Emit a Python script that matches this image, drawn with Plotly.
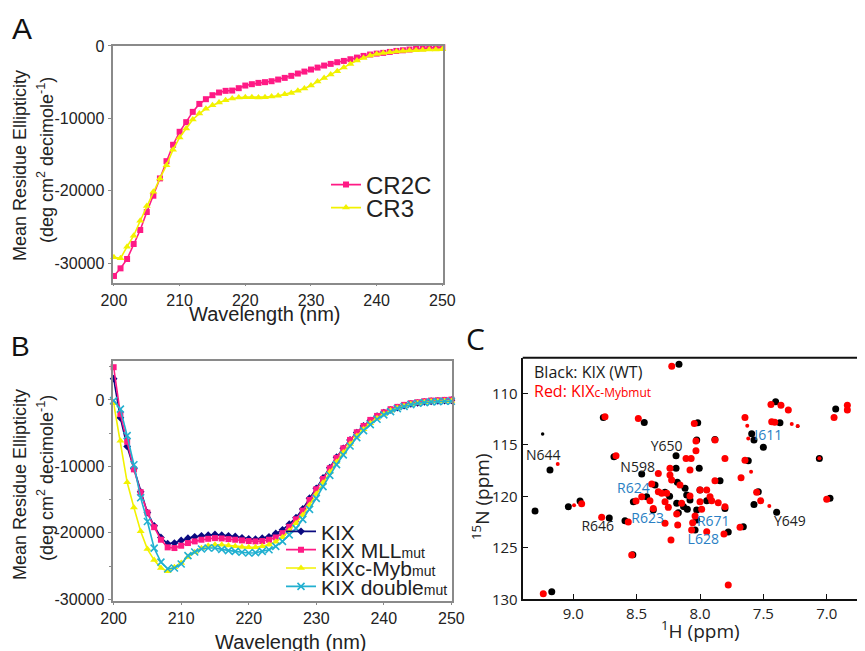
import plotly.graph_objects as go

# ---------------- data ----------------
wavelength = list(range(200, 251))

cr2c = [-31740, -30690, -29400, -27330, -25400, -22920, -20670, -18280, -15900, -13640,
        -11850, -10520, -9100, -8000, -7350, -6800, -6430, -6200, -6160, -5830,
        -5470, -5280, -5100, -5000, -4870, -4640, -4410, -4130, -3810, -3540,
        -3260, -2990, -2710, -2480, -2250, -2070, -1840, -1610, -1380, -1190,
        -1060, -960, -830, -690, -600, -500, -410, -320, -280, -230, -180]

cr3 = [-29170, -29300, -27700, -26190, -24120, -22100, -20120, -18280, -16450, -14330,
       -12630, -11390, -10150, -9330, -8680, -8180, -7810, -7490, -7260, -7120,
       -7070, -7070, -7120, -7070, -6980, -6890, -6660, -6480, -6200, -5880,
       -5470, -4920, -4410, -3950, -3490, -2990, -2480, -2020, -1650, -1330,
       -1100, -960, -870, -780, -690, -640, -600, -550, -500, -500, -460]

kix = [3200, -2700, -7000, -10350, -13830, -16960, -18950, -20700, -21640, -21540,
       -21140, -20800, -20600, -20450, -20350, -20250, -20350, -20450, -20550, -20750,
       -20900, -20950, -20800, -20600, -20100, -19550, -18700, -17720, -16400, -14800,
       -13300, -11750, -10200, -8630, -7280, -6020, -4920, -3920, -3110, -2460,
       -1910, -1510, -1150, -850, -600, -450, -300, -200, -150, -100, -50]

kix_mll = [4920, -2140, -6300, -10450, -13880, -16960, -19150, -21040, -22190, -22290,
           -21940, -21540, -21290, -21040, -20900, -20800, -20850, -20950, -21040, -21140,
           -21240, -21290, -21240, -21040, -20700, -20050, -19100, -17970, -16670, -15060,
           -13450, -11900, -10290, -8730, -7280, -6020, -4870, -3920, -3010, -2410,
           -1860, -1400, -1050, -750, -500, -350, -200, -100, -50, 0, 50]

kix_myb = [-500, -6150, -12400, -16200, -19750, -22450, -24100, -25300, -25800, -25170,
           -24530, -23630, -22930, -22340, -21940, -21790, -21790, -21890, -22040, -22140,
           -22190, -22190, -22040, -21790, -21340, -20650, -19700, -18570, -17320, -15810,
           -14160, -12450, -10840, -9340, -7930, -6630, -5420, -4420, -3510, -2760,
           -2110, -1610, -1200, -900, -650, -450, -350, -250, -200, -150, -150]

kix_double = [-100, -1390, -5370, -9750, -14730, -18300, -22300, -24400, -25400, -25300,
              -24700, -23430, -22880, -22440, -22290, -22290, -22490, -22690, -22790, -22930,
              -23030, -22990, -22790, -22540, -22040, -21290, -20300, -19330, -17970, -16470,
              -14810, -13050, -11350, -9740, -8280, -6930, -5670, -4620, -3710, -2910,
              -2260, -1760, -1310, -1000, -700, -500, -400, -300, -250, -200, -200]

# NMR peaks: (1H ppm, 15N ppm)
black_h = [8.166, 9.184, 9.302, 9.039, 8.947, 8.716, 8.763, 8.679, 8.44, 8.018,
           9.17, 8.189, 8.46, 8.189, 8.006, 7.842, 8.179, 8.355, 8.118, 8.276,
           8.0, 8.105, 8.421, 8.184, 8.079, 8.026, 7.947, 7.803, 8.526, 8.369,
           8.171, 8.10, 8.592, 8.026, 7.882, 8.026, 8.039, 7.777, 7.658, 8.53,
           7.592, 7.574, 7.50, 7.403, 7.369, 7.619, 7.54, 7.574, 7.395, 7.058,
           6.974, 6.929, 6.716, 6.72, 8.24, 8.13]
black_n = [107.16, 117.45, 121.43, 121.01, 120.46, 122.11, 112.33, 116.15, 112.82, 112.85,
           129.26, 116.06, 117.83, 117.28, 117.28, 118.49, 118.64, 118.90, 119.22, 119.61,
           119.39, 119.87, 120.04, 120.68, 120.36, 121.33, 120.43, 121.17, 120.52, 121.33,
           121.59, 121.26, 122.37, 122.30, 114.47, 114.53, 123.27, 123.47, 122.95, 125.68,
           113.92, 114.53, 115.24, 110.82, 112.85, 116.54, 119.55, 120.78, 121.55, 116.31,
           120.19, 111.52, 110.65, 112.60, 120.0, 121.0]
black_weak_h = [9.242, 7.229]
black_weak_n = [113.93, 113.2]

red_h = [8.223, 8.934, 8.776, 8.75, 8.663, 8.487, 8.045, 9.237, 7.882, 8.032,
         8.032, 8.11, 8.07, 7.803, 8.237, 8.079, 8.329, 8.237, 8.381, 8.224,
         7.882, 8.329, 8.302, 8.263, 8.158, 8.0, 7.947, 7.921, 8.46, 8.395,
         8.505, 8.276, 8.25, 8.145, 8.079, 8.0, 7.908, 7.856, 7.803, 8.369,
         8.184, 7.987, 8.039, 8.276, 8.176, 8.566, 8.058, 8.066, 7.947, 7.811,
         7.684, 8.229, 8.539, 7.777, 7.645, 7.44, 7.361, 7.303, 7.434, 7.41,
         7.645, 7.676, 7.553, 7.521, 7.0, 6.942, 6.837, 6.837, 6.716, 6.724]
red_n = [107.35, 120.72, 122.04, 112.27, 116.06, 112.43, 112.91, 129.46, 114.53, 114.63,
         115.57, 116.31, 116.31, 116.31, 117.28, 117.45, 117.77, 117.93, 118.80, 118.42,
         118.49, 119.55, 119.71, 119.71, 118.90, 119.39, 119.39, 120.04, 120.04, 120.43,
         120.46, 120.52, 121.07, 120.68, 119.97, 120.52, 120.43, 120.62, 121.01, 121.17,
         121.72, 121.26, 121.91, 122.62, 122.79, 122.50, 122.56, 123.27, 123.44, 123.66,
         123.0, 124.24, 125.70, 128.61, 112.33, 111.07, 111.14, 111.62, 112.75, 112.8,
         116.48, 118.19, 119.61, 120.43, 120.29, 112.33, 111.14, 111.62, 111.07, 112.66]
red_weak_h = [9.123, 8.994, 7.627, 7.619, 7.276, 7.229, 7.597, 7.453, 7.058]
red_weak_n = [116.86, 120.87, 113.15, 114.37, 112.98, 113.17, 117.61, 120.94, 116.3]

peak_labels = ["N644", "Y650", "N598", "R646", "Y649"]
peak_label_h = [9.237, 8.263, 8.492, 8.807, 7.29]
peak_label_n = [116.1, 115.24, 117.28, 123.0, 122.56]
blue_labels = ["I611", "R624", "R623", "R671", "L628"]
blue_label_h = [7.461, 8.526, 8.413, 7.895, 7.974]
blue_label_n = [114.2, 119.32, 122.23, 122.56, 124.31]

# ---------------- styling ----------------
W, H = 865, 651
OFF = 8  # page body margin of the browser
def px(x): return (x - OFF) / W
def py(y): return 1 - (y - OFF) / H

ARIAL = "Liberation Sans, Arial, sans-serif"
MYRIAD = "Open Sans, Noto Sans, sans-serif"
PINK = "#ff1a85"
YELLOW = "#f2f200"
NAVY = "#0a0a80"
CYAN = "#22b0d0"
GRAY = "#8a8a8a"
BLUE = "#2a7fc4"

fig = go.Figure()

def line_trace(y, name, color, symbol, size, xa, ya, legend, open_sym=False):
    marker = dict(symbol=symbol, size=size, color=color)
    if open_sym:
        marker["line"] = dict(color=color, width=1.6)
    return go.Scatter(x=wavelength, y=y, name=name, mode="lines+markers",
                      line=dict(color=color, width=1.6), marker=marker,
                      xaxis=xa, yaxis=ya, legend=legend, cliponaxis=False)

SUB = "<span style='font-size:14px'>mut</span>"
fig.add_trace(line_trace(cr2c, "CR2C", PINK, "square", 6, "x", "y", "legend"))
fig.add_trace(line_trace(cr3, "CR3", YELLOW, "triangle-up", 7, "x", "y", "legend2"))

fig.add_trace(line_trace(kix, "KIX", NAVY, "diamond", 6, "x2", "y2", "legend3"))
fig.add_trace(line_trace(kix_mll, "KIX MLL" + SUB, PINK, "square", 6, "x2", "y2", "legend4"))
fig.add_trace(line_trace(kix_myb, "KIXc-Myb" + SUB, YELLOW, "triangle-up", 7, "x2", "y2", "legend5"))
fig.add_trace(line_trace(kix_double, "KIX double" + SUB, CYAN, "x-thin", 7, "x2", "y2", "legend6", open_sym=True))

# NMR
fig.add_trace(go.Scatter(x=black_h, y=black_n, mode="markers", showlegend=False,
                         marker=dict(color="black", size=7), xaxis="x3", yaxis="y3"))
fig.add_trace(go.Scatter(x=black_weak_h, y=black_weak_n, mode="markers", showlegend=False,
                         marker=dict(color="black", size=3.5), xaxis="x3", yaxis="y3"))
fig.add_trace(go.Scatter(x=red_h, y=red_n, mode="markers", showlegend=False,
                         marker=dict(color="#ff0000", size=7), xaxis="x3", yaxis="y3"))
fig.add_trace(go.Scatter(x=red_weak_h, y=red_weak_n, mode="markers", showlegend=False,
                         marker=dict(color="#ff0000", size=4), xaxis="x3", yaxis="y3"))
fig.add_trace(go.Scatter(x=peak_label_h, y=peak_label_n, mode="text", text=peak_labels,
                         textfont=dict(family=MYRIAD, size=14, color="#222"), showlegend=False,
                         xaxis="x3", yaxis="y3"))
fig.add_trace(go.Scatter(x=blue_label_h, y=blue_label_n, mode="text", text=blue_labels,
                         textfont=dict(family=MYRIAD, size=14, color=BLUE), showlegend=False,
                         xaxis="x3", yaxis="y3"))

cd_axis = dict(showline=True, linecolor=GRAY, linewidth=1.5, mirror=True, ticks="outside",
               ticklen=4, tickcolor=GRAY, showgrid=False, zeroline=False, automargin=False,
               tickfont=dict(family=ARIAL, size=16, color="#222"))
cd_x = dict(cd_axis, ticklen=2)
wl_ticks = [200, 210, 220, 230, 240, 250]
y_ticks_a = [0, -10000, -20000, -30000]

# panel C: 126.7 px per ppm, 9.0 ppm at x=573.3; its right edge runs off the page
c_left_px, c_right_px = 522.7, W + OFF
c_range = [9.0 + (573.3 - c_left_px) / 126.7, 9.0 - (c_right_px - 573.3) / 126.7]

def leg(x, y, size):
    return dict(x=px(x), y=py(y), xanchor="left", yanchor="middle",
                font=dict(family=ARIAL, size=size, color="#222"), bgcolor="rgba(0,0,0,0)")

fig.update_layout(
    width=W, height=H, margin=dict(l=0, r=0, t=0, b=0, autoexpand=False),
    paper_bgcolor="white", plot_bgcolor="white",
    xaxis=dict(cd_x, domain=[px(113.3), px(443)], range=[199.9, 250.1], anchor="y",
               tickvals=wl_ticks, ticktext=[str(v) for v in wl_ticks]),
    yaxis=dict(cd_axis, domain=[py(282.7), py(45.7)], range=[-32670, 30], anchor="x",
               tickvals=y_ticks_a, ticktext=[str(v) for v in y_ticks_a]),
    xaxis2=dict(cd_x, domain=[px(113.3), px(451.7)], range=[199.95, 250.05], anchor="y2",
                tickvals=wl_ticks, ticktext=[str(v) for v in wl_ticks]),
    yaxis2=dict(cd_axis, domain=[py(601), py(360.7)], range=[-30260, 5900], anchor="x2",
                tickvals=y_ticks_a, ticktext=[str(v) for v in y_ticks_a],
                minor=dict(dtick=5000, tick0=0, ticks="outside", ticklen=3, tickcolor=GRAY)),
    xaxis3=dict(domain=[px(c_left_px), 1], range=c_range, anchor="y3", automargin=False,
                showline=True, linecolor="#111", linewidth=2, mirror=False,
                ticks="inside", ticklen=5, tickcolor="#111", showgrid=False, zeroline=False,
                tickvals=[9.0, 8.5, 8.0, 7.5, 7.0], ticktext=["9.0", "8.5", "8.0", "7.5", "7.0"],
                tickfont=dict(family=MYRIAD, size=15, color="#222")),
    yaxis3=dict(domain=[py(599.3), py(357.7)], range=[130, 106.53], anchor="x3", automargin=False,
                showline=True, linecolor="#111", linewidth=2, mirror=False,
                ticks="inside", ticklen=5, tickcolor="#111", showgrid=False, zeroline=False,
                tickvals=[110, 115, 120, 125, 130],
                tickfont=dict(family=MYRIAD, size=15, color="#222")),
    legend=leg(326, 185, 24),
    legend2=leg(326, 208, 24),
    legend3=leg(281, 531.7, 21),
    legend4=leg(281, 550, 21),
    legend5=leg(281, 568.3, 21),
    legend6=leg(281, 586.7, 21),
    shapes=[dict(type="line", xref="x3 domain", yref="y3 domain", x0=0, x1=1, y0=1, y1=1,
                 line=dict(color="#111", width=2))],
)

def ann(text, x, y, size, family=ARIAL, color="#222", angle=0, xanchor="center"):
    fig.add_annotation(text=text, x=px(x), y=py(y), xref="paper", yref="paper",
                       showarrow=False, textangle=angle, xanchor=xanchor, yanchor="middle",
                       font=dict(family=family, size=size, color=color))

# panel letters
ann("A", 21.7, 28, 30, color="#111")
ann("B", 20, 346, 28, color="#111")
ann("C", 476, 339, 30, family=MYRIAD, color="#111")

# CD axis titles
ann("Wavelength (nm)", 265, 314, 20)
ann("Wavelength (nm)", 291, 642, 20)
ann("Mean Residue Ellipticity", 20, 166, 18, angle=-90)
ann("(deg cm<sup>2</sup> decimole<sup>-1</sup>)", 46, 160, 18, angle=-90)
ann("Mean Residue Ellipticity", 20, 485, 18, angle=-90)
ann("(deg cm<sup>2</sup> decimole<sup>-1</sup>)", 46, 478, 18, angle=-90)

# NMR titles / key
ann("<sup>1</sup>H (ppm)", 700, 630, 19, family=MYRIAD)
ann("<sup>15</sup>N (ppm)", 481, 497, 19, family=MYRIAD, angle=-90)
ann("Black: KIX (WT)", 532, 372, 16, family=MYRIAD, color="#1a1a1a", xanchor="left")
ann("Red: KIX<span style='font-size:12px'>c-Mybmut</span>", 532, 391, 16, family=MYRIAD,
    color="#ff0000", xanchor="left")

fig.write_html("out.html")
